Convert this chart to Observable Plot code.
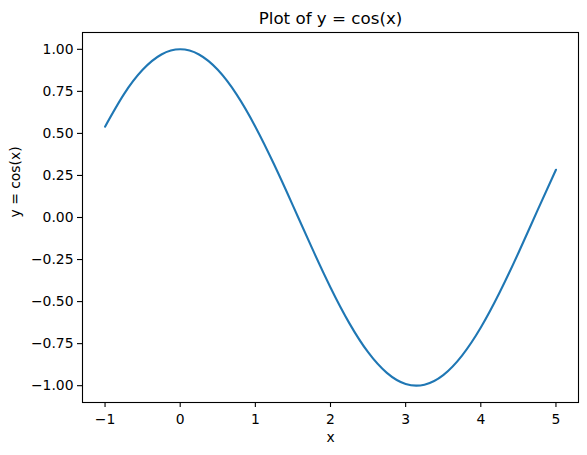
<!DOCTYPE html>
<html>
<head>
<meta charset="utf-8">
<script src="https://cdn.jsdelivr.net/npm/d3@7"></script>
<script src="https://cdn.jsdelivr.net/npm/@observablehq/plot@0.6"></script>
<style>
  html, body { margin: 0; padding: 0; background: #fff; }
  #chart svg { display: block; }
</style>
</head>
<body>
<div id="chart"></div>
<script>
const xs = [-1, -0.75, -0.5, -0.25, 0, 0.25, 0.5, 0.75, 1, 1.25, 1.5, 1.75, 2, 2.25, 2.5, 2.75, 3, 3.25, 3.5, 3.75, 4, 4.25, 4.5, 4.75, 5];
const ys = [0.540, 0.732, 0.878, 0.969, 1.000, 0.969, 0.878, 0.732, 0.540, 0.315, 0.071, -0.178, -0.416, -0.628, -0.801, -0.924, -0.990, -0.994, -0.937, -0.821, -0.654, -0.446, -0.211, 0.038, 0.284];
const xTicks = [-1, 0, 1, 2, 3, 4, 5];
const yTicks = [-1, -0.75, -0.5, -0.25, 0, 0.25, 0.5, 0.75, 1];
const titleText = "Plot of y = cos(x)";
const xLabel = "x";
const yLabel = "y = cos(x)";

const data = xs.map((x, i) => ({x, y: ys[i]}));

const chart = Plot.plot({
  width: 587,
  height: 455,
  marginLeft: 82,
  marginRight: 9,
  marginTop: 32,
  marginBottom: 53,
  style: {fontFamily: "DejaVu Sans", fontSize: "13.9px", color: "#000", background: "#fff"},
  x: {domain: [-1.3, 5.3]},
  y: {domain: [-1.1, 1.1]},
  marks: [
    Plot.line(data, {x: "x", y: "y", stroke: "#1f77b4", strokeWidth: 2.1, curve: "natural"}),
    Plot.frame({stroke: "#000", strokeWidth: 1.1}),
    Plot.axisX({ticks: xTicks, tickSize: 5, tickPadding: 7, tickFormat: d3.format("d"), label: null, strokeWidth: 1.1, fontSize: 13.9}),
    Plot.axisY({ticks: yTicks, tickSize: 5, tickPadding: 4, tickFormat: d3.format(".2f"), label: null, strokeWidth: 1.1, fontSize: 13.9}),
    Plot.text([titleText], {frameAnchor: "top", dy: -9, lineAnchor: "bottom", fontSize: 16.7, fill: "#000"}),
    Plot.text([xLabel], {frameAnchor: "bottom", dy: 30, lineAnchor: "top", fontSize: 13.9, fill: "#000"}),
    Plot.text([yLabel], {frameAnchor: "left", dx: -67, rotate: -90, fontSize: 13.9, fill: "#000"})
  ]
});
document.getElementById("chart").appendChild(chart);
</script>
</body>
</html>
